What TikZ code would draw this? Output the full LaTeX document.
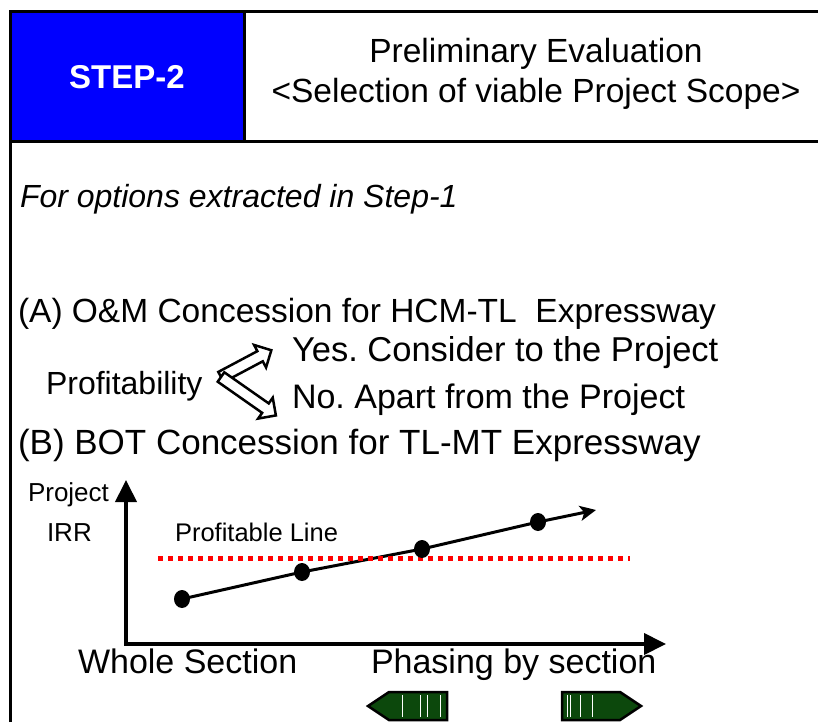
\documentclass[tikz,border=0pt]{standalone}
\usepackage{fontspec}
\setmainfont{Liberation Sans}
\usetikzlibrary{positioning,arrows.meta,shapes.arrows,shapes.geometric}
\definecolor{stepblue}{RGB}{0,0,255}
\definecolor{phasegreen}{RGB}{12,72,12}
\newcommand{\fsize}[1]{\fontsize{#1}{#1}\selectfont}
\frenchspacing
\tikzset{
  every node/.style={
    inner sep=0pt,
    outer sep=0pt
  },
  frame/.style={line width=3pt},
  stepbox/.style={fill=stepblue, draw=black, line width=3pt, text=white,
    font=\bfseries\fsize{33}},
  body/.style={anchor=base west, font=\fsize{33.5}},
  small/.style={anchor=base west, font=\fsize{26}},
  hollow/.style={single arrow, draw=black, fill=white, line width=2.5pt,
    inner sep=4.5pt, single arrow head extend=7pt, anchor=tail},
  axis/.style={line width=4pt, -{Triangle[length=22pt,width=21pt]}},
  trend/.style={line width=3pt, -{Stealth[length=16pt,width=15pt,inset=4pt]}},
  dot/.style={ellipse, fill=black, minimum width=16pt, minimum height=18pt},
  profit/.style={draw=red, line width=5pt, dash pattern=on 5pt off 5pt},
  phase/.style={draw=black, fill=phasegreen, line width=2.5pt},
  stripe/.style={draw=white, line width=1pt}
}

\begin{document}
\begin{tikzpicture}[x=1pt,y=-1pt]
    \useasboundingbox (0,0) rectangle (818,722);
    % frame
    \draw[frame] (10,722) -- (10,12) -- (818,12);
    \draw[frame] (10,142) -- (818,142);
    \node [stepbox, anchor=north west, minimum width=234pt, minimum height=130pt] (Step) at (10,12) {STEP-2};
    \node [align=center, font=\fontsize{33.5}{40}\selectfont, anchor=base] (Title) at (536,103)
      {Preliminary Evaluation\\<Selection of viable Project Scope>};
    \node [body, font=\itshape\fsize{32}] (Scope) at (20,207) {For options extracted in Step-1};
    % (A)
    \node [body] (OptA) at (18,322) {(A) O\&M Concession for HCM-TL\ \ Expressway};
    \node [body, font=\fsize{32}] (Prof) at (46,394) {Profitability};
    \node [body, font=\fsize{34.5}] (Yes) at (292,361) {Yes. Consider to the Project};
    \node [body, font=\fsize{34}] (No) at (292,408) {No. Apart from the Project};
    \coordinate (Fork) at (221,377);
    \node [hollow, rotate=28, minimum height=57pt] (YesArrow) at (Fork) {};
    \node [hollow, rotate=-35, minimum height=67pt] (NoArrow) at (Fork) {};
    % (B)
    \node [body, font=\fsize{35}] (OptB) at (18,454) {(B) BOT Concession for TL-MT Expressway};
    \node [small] (Project) at (28,501) {Project};
    \node [small] (IRR) at (47,541) {IRR};
    \node [small, font=\fsize{25.5}] (ProfLine) at (175,541) {Profitable Line};
    \coordinate (Origin) at (126,645);
    \coordinate (XStart) at (124,644);
    \coordinate (YTop) at (126,480);
    \coordinate (XEnd) at (666,644);
    \draw[axis] (Origin) -- (YTop);
    \draw[axis] (XStart) -- (XEnd);
    \coordinate (P1) at (182,599);
    \coordinate (P2) at (302,572);
    \coordinate (P3) at (422,549);
    \coordinate (P4) at (538,522);
    \coordinate (TrendEnd) at (596,510);
    \draw[trend] (P1) -- (P2) -- (P3) -- (P4) -- (TrendEnd);
    \coordinate (LineStart) at (158,558);
    \coordinate (LineEnd) at (630,558);
    \draw[profit] (LineStart) -- (LineEnd);
    \foreach \p in {1,...,4}
      \node [dot] (Dot\p) at (P\p) {};
    \node [body, font=\fsize{34}] (Whole) at (78,673) {Whole Section};
    \node [body, font=\fsize{34}] (Phasing) at (371,673) {Phasing by section};
    % phasing arrows
    \draw[phase] (447,692) -- (389,692) -- (368,706) -- (389,720) -- (447,720) -- cycle;
    \foreach \x in {402,420,427,440}
      \draw[stripe] (\x,695) -- (\x,717);
    \draw[phase] (562,692) -- (620,692) -- (641,706) -- (620,720) -- (562,720) -- cycle;
    \foreach \x in {567,570,580,592}
      \draw[stripe] (\x,695) -- (\x,717);
\end{tikzpicture}
\end{document}
